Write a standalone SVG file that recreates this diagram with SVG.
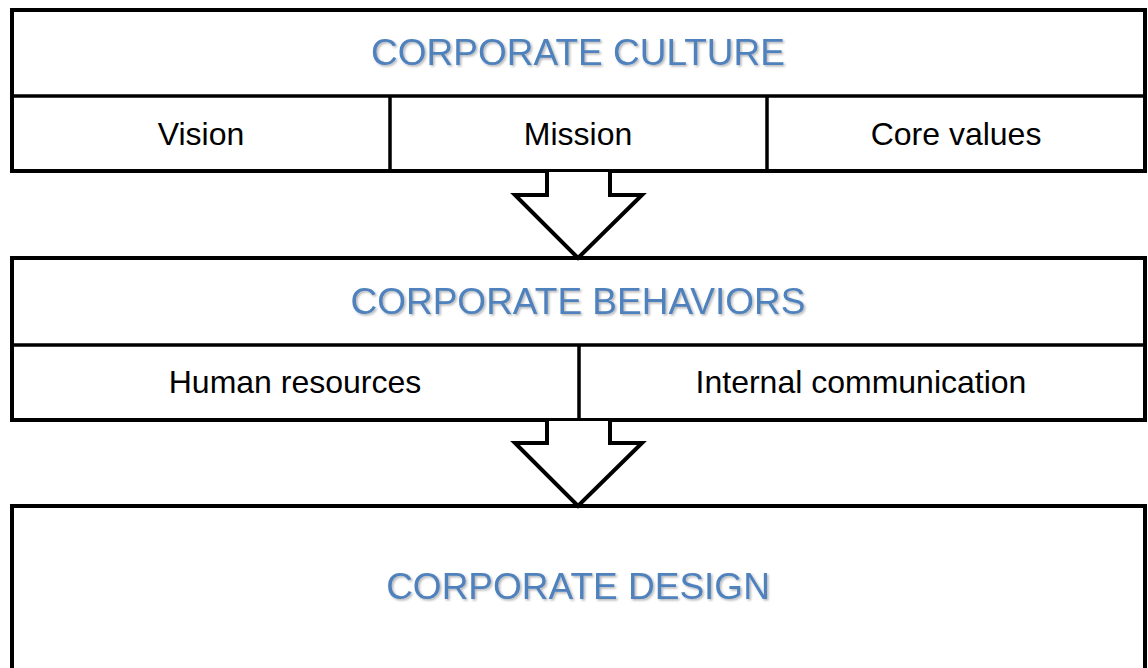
<svg xmlns="http://www.w3.org/2000/svg" width="1148" height="668" viewBox="0 0 1148 668">
<defs>
<style>
.box{fill:#fff;stroke:#000;stroke-width:4}
.ln{stroke:#000;stroke-width:3.5;fill:none}
.arrow{fill:#fff;stroke:#000;stroke-width:4;stroke-linejoin:miter}
.title{font-family:"Liberation Sans",Arial,sans-serif;font-size:37px;fill:#4F81BD;text-anchor:middle;filter:url(#sh)}
.sub{font-family:"Liberation Sans",Arial,sans-serif;font-size:32px;fill:#000;text-anchor:middle}
</style>
<filter id="sh" x="-5%" y="-30%" width="110%" height="160%">
<feDropShadow dx="1.5" dy="1.5" stdDeviation="1" flood-color="#000" flood-opacity="0.3"/>
</filter>
</defs>
<rect width="1148" height="668" fill="#fff"/>
<g id="culture">
<rect class="box" x="12" y="10" width="1133" height="161"/>
<line class="ln" x1="12" y1="96" x2="1145" y2="96"/>
<line class="ln" x1="390" y1="96" x2="390" y2="171"/>
<line class="ln" x1="767" y1="96" x2="767" y2="171"/>
<text class="title" x="578" y="65">CORPORATE CULTURE</text>
<text class="sub" x="201" y="145">Vision</text>
<text class="sub" x="578" y="145">Mission</text>
<text class="sub" x="956" y="145">Core values</text>
</g>
<g id="behaviors">
<rect class="box" x="12" y="258" width="1133" height="162"/>
<line class="ln" x1="12" y1="345" x2="1145" y2="345"/>
<line class="ln" x1="579" y1="345" x2="579" y2="420"/>
<text class="title" x="578" y="314">CORPORATE BEHAVIORS</text>
<text class="sub" x="295" y="393">Human resources</text>
<text class="sub" x="861" y="393">Internal communication</text>
</g>
<g id="design">
<rect class="box" x="12" y="506" width="1133" height="164"/>
<text class="title" x="578" y="599">CORPORATE DESIGN</text>
</g>
<g id="connectors">
<path class="arrow" d="M547,172 L547,195 L515,195 L578,258 L642,195 L610,195 L610,172"/>
<path class="arrow" d="M547,421 L547,443 L515,443 L578,506 L642,443 L610,443 L610,421"/>
</g>
</svg>
